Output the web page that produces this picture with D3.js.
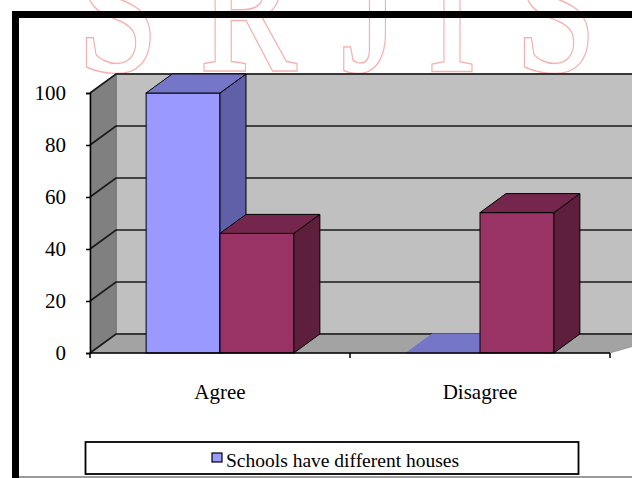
<!DOCTYPE html>
<html>
<head>
  <meta charset="utf-8" />
  <title>Schools have different houses</title>
  <script src="https://d3js.org/d3.v7.min.js"></script>
  <style>
    body { margin: 0; background: #fff; }
    text { font-family: "Liberation Serif", "DejaVu Serif", serif; }
  </style>
</head>
<body>
  <div id="chart"></div>
  <script type="text/javascript">

    // chart values
    var categories = ["Agree", "Disagree"];
    var seriesNames = ["Schools have different houses", "Series 2"];
    var agreeSeries = [100, 46];      // per series, category "Agree"
    var disagreeSeries = [0, 54];     // per series, category "Disagree"
    var yTicks = [0, 20, 40, 60, 80, 100];
    var watermark = ["S", "R", "J", "I", "S"];

    var values = [agreeSeries, disagreeSeries];

    var W = 632, H = 478;
    var dx = 26, dy = -19; // 3d depth

    var faces = [
      { front: "#9999ff", top: "#7676c9", side: "#6060a8" },
      { front: "#993366", top: "#74264c", side: "#5e1f3d" }
    ];

    var svg = d3.select("#chart").append("svg")
      .attr("width", W).attr("height", H);

    /* watermark behind everything (top half of big letters, cut by the page edge) */
    var wx = d3.scaleOrdinal().domain(d3.range(watermark.length)).range([118, 248, 370, 452, 556]);
    var wm = svg.append("g");
    function wmText(cls, fill, stroke, sw) {
      wm.selectAll("text." + cls).data(watermark).enter().append("text")
        .attr("class", cls)
        .attr("transform", (d, i) => "translate(" + wx(i) + ",70) scale(0.82,1)")
        .attr("text-anchor", "middle")
        .style("font-family", "Liberation Serif, DejaVu Serif, serif")
        .style("font-size", "175px")
        .style("fill", fill)
        .style("stroke", stroke)
        .style("stroke-width", sw)
        .text(d => d);
    }
    wmText("wa", "none", "#f6b0b0", 4.5);
    wmText("wb", "#fff", "#fff", 1.5);

    /* outer frame */
    svg.append("rect")
      .attr("x", 15.5).attr("y", 14.5)
      .attr("width", 700).attr("height", 520)
      .style("fill", "none").style("stroke", "#000").style("stroke-width", 7);
    svg.append("line")
      .attr("x1", 19).attr("x2", W).attr("y1", 477).attr("y2", 477)
      .style("stroke", "#7a7a7a").style("stroke-width", 1.5);

    var y = d3.scaleLinear().domain([0, 100]).range([353, 93]);
    var x0 = d3.scaleBand().domain(categories).range([90, 610]);
    var x1 = d3.scaleBand().domain(d3.range(seriesNames.length))
      .range([0, x0.bandwidth()]).paddingOuter(0.76);

    var left = x0.range()[0], right = x0.range()[1];
    var g = svg.append("g");

    function pts(a) { return a.map(p => p.join(",")).join(" "); }

    // walls
    g.append("polygon")
      .attr("points", pts([[left + dx, y(100) + dy], [right + dx + 40, y(100) + dy], [right + dx + 40, y(0) + dy], [left + dx, y(0) + dy]]))
      .style("fill", "#c0c0c0").style("stroke", "#7a7a7a").style("stroke-width", 1.5);
    g.append("polygon")
      .attr("points", pts([[left, y(100)], [left + dx, y(100) + dy], [left + dx, y(0) + dy], [left, y(0)]]))
      .style("fill", "#808080").style("stroke", "#666").style("stroke-width", 0.5);
    g.append("polygon")
      .attr("points", pts([[left, y(0)], [left + dx, y(0) + dy], [right + dx + 40, y(0) + dy], [right, y(0)]]))
      .style("fill", "#a3a3a3").style("stroke", "#808080").style("stroke-width", 0.5);

    // gridlines
    yTicks.forEach(function (t) {
      g.append("path")
        .attr("d", "M" + left + "," + y(t) + "L" + (left + dx) + "," + (y(t) + dy) + "L" + (right + dx + 40) + "," + (y(t) + dy))
        .style("fill", "none").style("stroke", "#1a1a1a").style("stroke-width", 1.7);
    });

    // bars
    categories.forEach(function (c, ci) {
      values[ci].forEach(function (v, si) {
        var bx = x0(c) + x1(si), bw = x1.bandwidth();
        var yt = y(v), yb = y(0);
        var f = faces[si];
        var bar = g.append("g");
        bar.append("rect")
          .attr("x", bx).attr("y", yt).attr("width", bw).attr("height", yb - yt)
          .style("fill", f.front).style("stroke", "#000").style("stroke-width", 1);
        bar.append("polygon")
          .attr("points", pts([[bx + bw, yt], [bx + bw + dx, yt + dy], [bx + bw + dx, yb + dy], [bx + bw, yb]]))
          .style("fill", f.side).style("stroke", "#000").style("stroke-width", v > 0 ? 1 : 0);
        bar.append("polygon")
          .attr("points", pts([[bx, yt], [bx + dx, yt + dy], [bx + bw + dx, yt + dy], [bx + bw, yt]]))
          .style("fill", f.top).style("stroke", v > 0 ? "#000" : f.top).style("stroke-width", 1);
      });
    });

    // axes
    var yAxis = d3.axisLeft(y).tickValues(yTicks).tickSize(4).tickPadding(20);
    var ya = svg.append("g").attr("transform", "translate(" + left + ",0)").call(yAxis);
    ya.attr("font-family", null);
    ya.select(".domain").style("stroke", "#000").style("stroke-width", 1.5);
    ya.selectAll(".tick line").style("stroke", "#000").style("stroke-width", 1.5);
    ya.selectAll(".tick text")
      .style("font-family", "Liberation Serif, DejaVu Serif, serif").style("font-size", "21px").style("fill", "#000");

    var xTickScale = d3.scaleLinear().domain([0, categories.length]).range([left, right]);
    var xa = svg.append("g");
    xa.append("line")
      .attr("x1", left).attr("x2", right).attr("y1", y(0)).attr("y2", y(0))
      .style("stroke", "#000").style("stroke-width", 1.5);
    xa.selectAll("line.tk").data(d3.range(categories.length + 1)).enter().append("line")
      .attr("x1", d => xTickScale(d)).attr("x2", d => xTickScale(d))
      .attr("y1", y(0)).attr("y2", y(0) + 5)
      .style("stroke", "#000").style("stroke-width", 1.5);
    xa.selectAll("text").data(categories).enter().append("text")
      .attr("x", d => x0(d) + x0.bandwidth() / 2)
      .attr("y", 399)
      .attr("text-anchor", "middle")
      .style("font-size", "21px")
      .text(d => d);

    // legend
    var lg = svg.append("g");
    lg.append("rect")
      .attr("x", 85.5).attr("y", 442).attr("width", 493).attr("height", 32)
      .style("fill", "#fff").style("stroke", "#000").style("stroke-width", 1.8);
    lg.append("rect")
      .attr("x", 212).attr("y", 453).attr("width", 10).attr("height", 9)
      .style("fill", faces[0].front).style("stroke", "#000").style("stroke-width", 1.2);
    lg.append("text")
      .attr("x", 226).attr("y", 467)
      .style("font-size", "19.5px")
      .text(seriesNames[0]);

  </script>
</body>
</html>
